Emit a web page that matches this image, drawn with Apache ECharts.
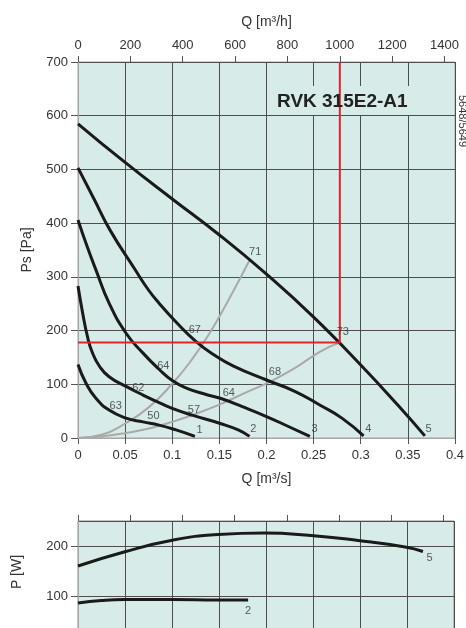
<!DOCTYPE html>
<html lang="en">
<head>
    <meta charset="UTF-8">
    <title>RVK 315E2-A1</title>
    <style>
        html, body { margin: 0; padding: 0; background: #fff; }
        #main { width: 466px; height: 628px; }
    </style>
</head>
<body>
<div id="main"></div>
<script src="https://cdn.jsdelivr.net/npm/echarts@6/dist/echarts.min.js"></script>
<script>
    const myChart = echarts.init(document.getElementById('main'));

    // fan curves, Q [m3/s] / Ps [Pa]
    const fan1 = [[0,137],[0.0085,102],[0.019,74],[0.033,52],[0.051,37],[0.069,30],[0.086,24],[0.104,15],[0.124,3]];
    const fan2 = [[0,283],[0.005,232],[0.01,189],[0.015,160],[0.0226,134],[0.033,114],[0.051,96],[0.069,80],[0.086,66],[0.1,55],[0.122,42],[0.151,27],[0.17,15],[0.182,3]];
    const fan3 = [[0,406],[0.01,355],[0.019,313],[0.033,251],[0.051,195],[0.069,158],[0.086,128],[0.1,107],[0.115,93],[0.136,81],[0.151,74],[0.175,58],[0.2,40],[0.225,20],[0.246,3]];
    const fan4 = [[0,503],[0.017,445],[0.034,387],[0.06,315],[0.0746,276],[0.086,251],[0.104,216],[0.125,180],[0.145,154],[0.165,134],[0.2,108],[0.23,87],[0.257,61],[0.28,37],[0.303,4]];
    const fan5 = [[0,585],[0.05,513],[0.1,445],[0.15,378],[0.2,305],[0.25,225],[0.3,136],[0.34,60],[0.368,4]];

    // system curves (grey)
    const sys1 = [[0,0],[0.025,6],[0.05,27],[0.075,57],[0.1,101],[0.12,144],[0.14,196],[0.16,258],[0.182,331]];
    const sys2 = [[0,0],[0.025,3],[0.05,9],[0.0764,18],[0.1,30],[0.125,45],[0.15,62],[0.165,74],[0.185,90],[0.204,105],[0.23,130],[0.257,161],[0.278,178]];

    // duty point 1000 m3/h / 178 Pa
    const dutyV = [[0.2778,700],[0.2778,178]];
    const dutyH = [[0,178],[0.2778,178]];

    // curve labels [Q, Ps, text]
    const curveLabels = [
        [0.040,60,'63'],[0.080,41,'50'],[0.129,15,'1'],
        [0.064,94,'62'],[0.123,53,'57'],[0.186,16,'2'],
        [0.0905,134,'64'],[0.160,84,'64'],[0.251,16,'3'],
        [0.124,202,'67'],[0.209,122,'68'],[0.308,16,'4'],
        [0.188,346,'71'],[0.281,198,'73'],[0.372,16,'5']
    ];

    // power curves, Q [m3/s] / P [W]
    const pow5 = [[0,160],[0.049,188],[0.099,211],[0.149,223],[0.198,226],[0.248,221],[0.298,211],[0.348,198],[0.367,189]];
    const pow2 = [[0,86],[0.025,91],[0.049,93],[0.1,93],[0.149,92],[0.181,92]];
    const powLabels = [[0.374,177,'5'],[0.181,71,'2']];

    const m3hTicks = [0,200,400,600,800,1000,1200,1400];

    const font = 'Liberation Sans, Arial, sans-serif';
    const bg = '#d7ece9';
    const gridLine = {show: true, lineStyle: {color: '#4d4d4d', width: 1}};
    const tick = {show: true, length: 6, lineStyle: {color: '#555'}};
    const label = {color: '#333', fontSize: 13, fontFamily: font};

    function fanLine(data, xi, yi) {
        return {
            type: 'line', data, xAxisIndex: xi, yAxisIndex: yi,
            smooth: 0.5, symbol: 'none', silent: true,
            lineStyle: {color: '#1a1a1a', width: 3}
        };
    }
    function greyLine(data) {
        return {
            type: 'line', data, smooth: 0.5, symbol: 'none', silent: true,
            lineStyle: {color: '#a9a9a9', width: 2}
        };
    }
    function redLine(data) {
        return {
            type: 'line', data, symbol: 'none', silent: true, z: 4,
            lineStyle: {color: '#e2222b', width: 2}
        };
    }
    function textSeries(data, xi, yi) {
        return {
            type: 'scatter', data, xAxisIndex: xi, yAxisIndex: yi,
            symbolSize: 1, silent: true, z: 5,
            itemStyle: {color: 'rgba(0,0,0,0)'},
            label: {
                show: true, position: 'inside', color: '#333',
                fontSize: 11, fontFamily: font,
                formatter: p => p.value[2]
            }
        };
    }

    const option = {
        animation: false,
        grid: [
            {left: 78, top: 62, width: 377, height: 376, show: true, outerBoundsMode: 'none',
                backgroundColor: bg, borderColor: '#a5a5a5', borderWidth: 1},
            {left: 78, top: 521, width: 376, height: 125, show: true, outerBoundsMode: 'none',
                backgroundColor: bg, borderColor: '#8c8c8c', borderWidth: 1}
        ],
        xAxis: [
            {
                gridIndex: 0, type: 'value', min: 0, max: 0.4, interval: 0.05,
                name: 'Q [m³/s]', nameLocation: 'middle', nameGap: 34,
                nameTextStyle: {color: '#333', fontSize: 14, fontFamily: font},
                axisLine: {show: true, lineStyle: {color: '#a5a5a5'}},
                axisTick: tick, axisLabel: Object.assign({margin: 11}, label),
                splitLine: gridLine
            },
            {
                gridIndex: 0, type: 'value', position: 'top', min: 0, max: 1440,
                name: 'Q [m³/h]', nameLocation: 'middle', nameGap: 33,
                nameTextStyle: {color: '#333', fontSize: 14, fontFamily: font},
                axisLine: {show: false},
                axisTick: Object.assign({customValues: m3hTicks}, tick),
                axisLabel: Object.assign({margin: 10, customValues: m3hTicks,
                    formatter: v => String(v)}, label),
                splitLine: {show: false}
            },
            {
                gridIndex: 1, type: 'value', min: 0, max: 0.4, interval: 0.05,
                axisLine: {show: false}, axisTick: {show: false}, axisLabel: {show: false},
                splitLine: gridLine
            },
            {
                gridIndex: 1, type: 'value', position: 'top', min: 0, max: 1440,
                axisLine: {show: false},
                axisTick: Object.assign({customValues: m3hTicks}, tick),
                axisLabel: {show: false},
                splitLine: {show: false}
            }
        ],
        yAxis: [
            {
                gridIndex: 0, type: 'value', min: 0, max: 700, interval: 100,
                name: 'Ps [Pa]', nameLocation: 'middle', nameGap: 44,
                nameTextStyle: {color: '#333', fontSize: 14, fontFamily: font},
                axisLine: {show: true, lineStyle: {color: '#a5a5a5'}},
                axisTick: Object.assign({}, tick, {length: 7}),
                axisLabel: Object.assign({margin: 10}, label),
                splitLine: gridLine
            },
            {
                gridIndex: 1, type: 'value', min: 0, max: 250, interval: 100,
                axisLine: {show: true, lineStyle: {color: '#a5a5a5'}},
                axisTick: Object.assign({}, tick, {length: 7}),
                axisLabel: Object.assign({margin: 10, showMaxLabel: false}, label),
                splitLine: gridLine
            }
        ],
        graphic: [
            {type: 'rect', z: 1, silent: true,
                shape: {x: 272, y: 86, width: 182, height: 29},
                style: {fill: bg}},
            {type: 'text', z: 10, silent: true, left: 277, top: 92,
                style: {text: 'RVK 315E2-A1', fill: '#222',
                    font: 'bold 19px ' + font}},
            {type: 'text', z: 10, silent: true, x: 462, y: 121, rotation: -Math.PI / 2,
                style: {text: '5648/5649', fill: '#333', font: '11px ' + font,
                    align: 'center', verticalAlign: 'middle'}},
            {type: 'text', z: 10, silent: true, x: 17, y: 572, rotation: Math.PI / 2,
                style: {text: 'P [W]', fill: '#333', font: '14px ' + font,
                    align: 'center', verticalAlign: 'middle'}}
        ],
        series: [
            greyLine(sys1),
            greyLine(sys2),
            fanLine(fan1, 0, 0),
            fanLine(fan2, 0, 0),
            fanLine(fan3, 0, 0),
            fanLine(fan4, 0, 0),
            fanLine(fan5, 0, 0),
            redLine(dutyV),
            redLine(dutyH),
            textSeries(curveLabels, 0, 0),
            fanLine(pow5, 2, 1),
            fanLine(pow2, 2, 1),
            textSeries(powLabels, 2, 1)
        ]
    };

    myChart.setOption(option);
</script>
</body>
</html>
